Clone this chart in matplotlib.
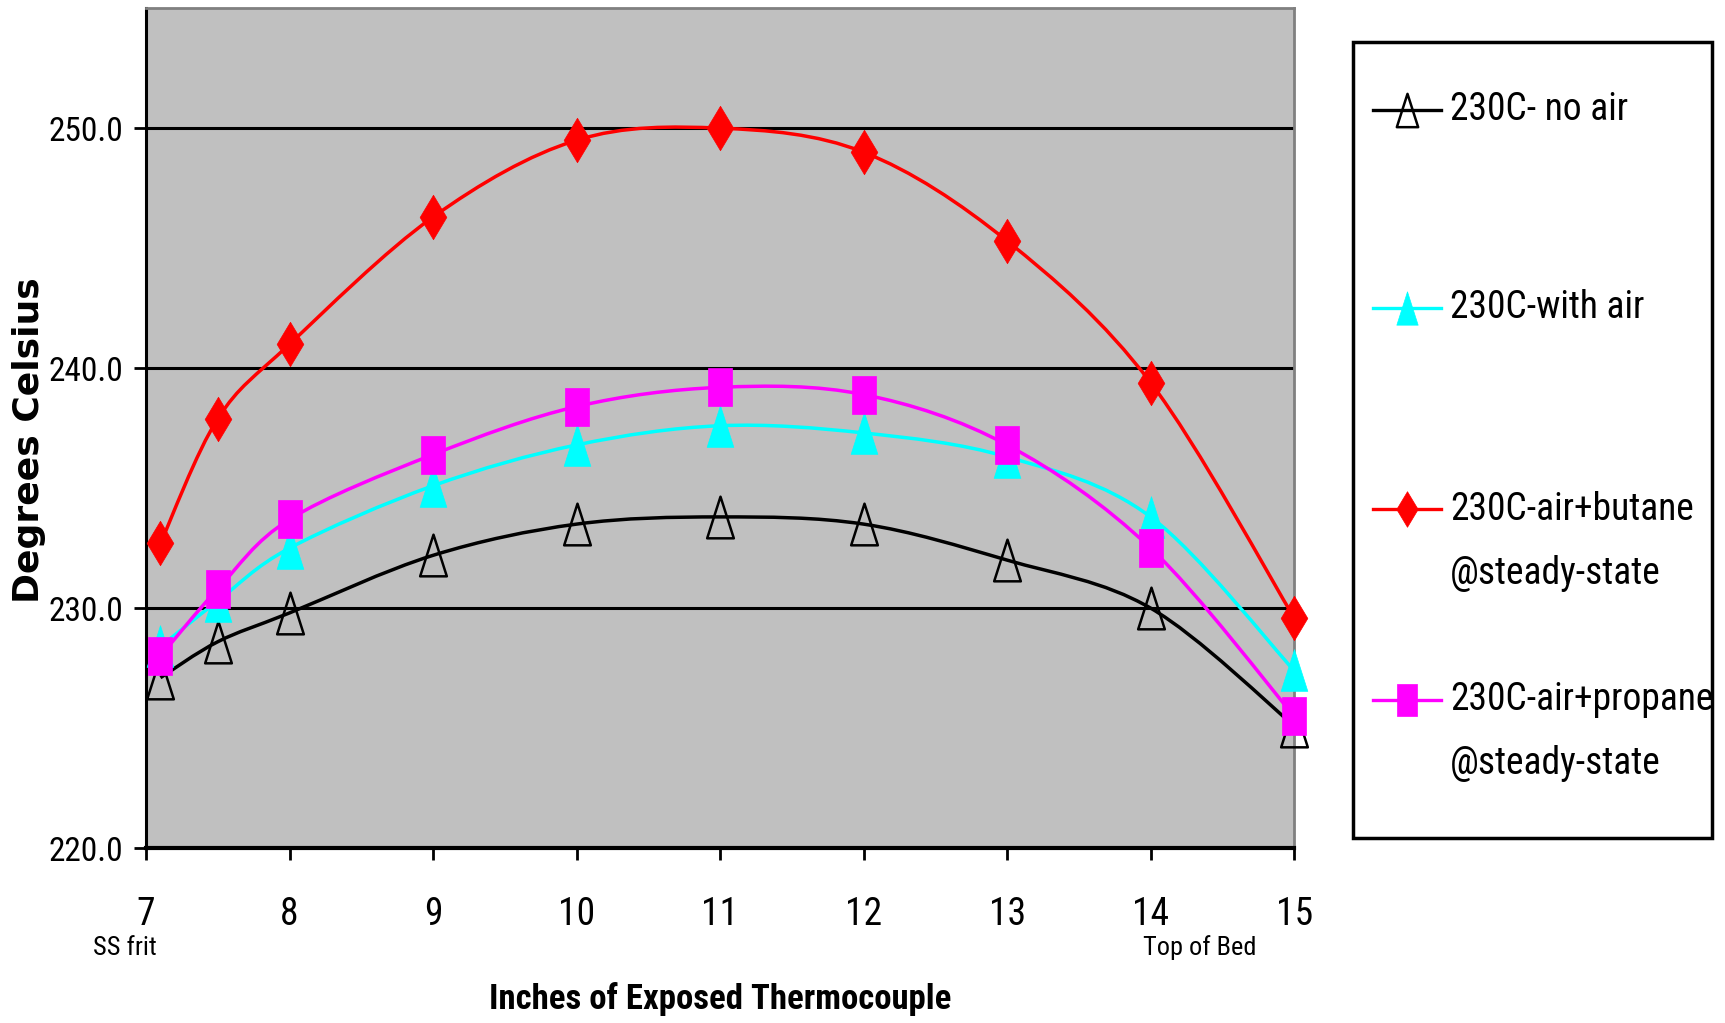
# temperature profile along the exposed thermocouple, 230C runs
import numpy as np
import matplotlib
matplotlib.use('Agg')
import matplotlib.pyplot as plt
from matplotlib import font_manager
from matplotlib.path import Path
from matplotlib.patches import PathPatch, Rectangle
from matplotlib.lines import Line2D

inches = [7.1, 7.5, 8, 9, 10, 11, 12, 13, 14, 15]
no_air = [227.1, 228.6, 229.8, 232.2, 233.5, 233.8, 233.5, 232.0, 230.0, 225.1]
with_air = [228.4, 230.3, 232.5, 235.1, 236.8, 237.6, 237.3, 236.3, 233.8, 227.4]
air_butane = [232.7, 237.9, 241.0, 246.3, 249.5, 250.0, 249.0, 245.3, 239.4, 229.6]
air_propane = [228.0, 230.8, 233.7, 236.4, 238.4, 239.2, 238.9, 236.8, 232.5, 225.5]

labels = ['230C- no air', '230C-with air',
          '230C-air+butane\n@steady-state', '230C-air+propane\n@steady-state']
x_ticks = [7, 8, 9, 10, 11, 12, 13, 14, 15]
y_ticks = [220, 230, 240, 250]
y_tick_labels = ['220.0', '230.0', '240.0', '250.0']

# the chart uses a narrow face; take one if it is there, else shrink a normal one
names = {f.name for f in font_manager.fontManager.ttflist}
family, stretch, scale = 'Liberation Sans', 'normal', 0.82
for cand in ['Liberation Sans Narrow', 'Arial Narrow', 'Roboto Condensed',
             'Open Sans Condensed', 'Noto Sans Condensed', 'DejaVu Sans Condensed']:
    if cand in names:
        family, scale = cand, 1.0
        break
else:
    for f in font_manager.fontManager.ttflist:
        if f.name in ('Noto Sans', 'Roboto', 'Open Sans', 'DejaVu Sans') and \
                f.stretch in ('condensed', 'semi-condensed', 'extra-condensed'):
            family, stretch, scale = f.name, 'condensed', 1.0
            break
plt.rcParams['font.family'] = [family, 'Liberation Sans', 'DejaVu Sans']
plt.rcParams['font.stretch'] = stretch

# excel-like markers, a bit taller than wide
tri = Path([(0, 1), (0.64, -1), (-0.64, -1), (0, 1)], closed=True)
diamond = Path([(0, 1), (0.6, 0), (0, -1), (-0.6, 0), (0, 1)], closed=True)
square = Path([(-0.64, -1), (0.64, -1), (0.64, 1), (-0.64, 1), (-0.64, -1)], closed=True)

styles = [
    dict(color='black', marker=tri, ms=30, mfc='none', mew=1.8),
    dict(color='#00FFFF', marker=tri, ms=30, mfc='#00FFFF', mew=0.5),
    dict(color='red', marker=diamond, ms=32, mfc='red', mew=0.5),
    dict(color='#FF00FF', marker=square, ms=28, mfc='#FF00FF', mew=0.5),
]


def smooth_path(x, y):
    # cubic bezier through the points, like excel's smoothed line
    pts = np.column_stack([x, y])
    verts = [pts[0]]
    codes = [Path.MOVETO]
    n = len(pts)
    for i in range(n - 1):
        p0 = pts[i - 1] if i > 0 else pts[i]
        p1 = pts[i]
        p2 = pts[i + 1]
        p3 = pts[i + 2] if i + 2 < n else pts[i + 1]
        verts += [p1 + (p2 - p0) / 6, p2 - (p3 - p1) / 6, p2]
        codes += [Path.CURVE4] * 3
    return Path(verts, codes)


fig = plt.figure(figsize=(17.25, 10.23), dpi=100)
ax = fig.add_axes([0.0847, 0.171, 0.6655, 0.821])
ax.set_facecolor('#C0C0C0')

series = [no_air, with_air, air_butane, air_propane]
for k, (vals, st) in enumerate(zip(series, styles)):
    ax.add_patch(PathPatch(smooth_path(inches, vals), fill=False,
                           edgecolor=st['color'], lw=2.5, zorder=3 + 2 * k))
    ax.plot(inches, vals, linestyle='none', marker=st['marker'], ms=st['ms'],
            mfc=st['mfc'], mec=st['color'], mew=st['mew'], clip_on=False,
            zorder=4 + 2 * k)

ax.set_xlim(7, 15)
ax.set_ylim(220, 255)
ax.set_xticks(x_ticks)
ax.set_xticklabels([str(t) for t in x_ticks], fontsize=27 * scale)
ax.set_yticks(y_ticks)
ax.set_yticklabels(y_tick_labels, fontsize=24 * scale)
ax.tick_params(axis='y', direction='out', length=8.6, width=2, pad=8)
ax.tick_params(axis='x', direction='out', length=8.6, width=2, pad=26)
ax.yaxis.grid(True, color='black', lw=2.2)
ax.set_axisbelow(True)

for side in ['top', 'right']:
    ax.spines[side].set_color('#808080')
    ax.spines[side].set_linewidth(2)
ax.spines['left'].set_linewidth(2.2)
ax.spines['bottom'].set_linewidth(3)

ax.text(0.5, -0.18, 'Inches of Exposed Thermocouple', transform=ax.transAxes,
        ha='center', va='center', fontsize=25 * scale, fontweight='bold')
ax.text(-0.102, 0.486, 'Degrees Celsius', transform=ax.transAxes, rotation=90,
        ha='center', va='center', fontsize=26, fontweight='bold',
        family='DejaVu Sans', stretch='normal')
ax.text(6.85, -0.119, 'SS frit', transform=ax.get_xaxis_transform(),
        ha='center', va='center', fontsize=19 * scale, clip_on=False)
ax.text(14.345, -0.119, 'Top of Bed', transform=ax.get_xaxis_transform(),
        ha='center', va='center', fontsize=19 * scale, clip_on=False)

# legend box drawn by hand so the marker sits on the first text line
W, H = 1725.0, 1023.0
fig.patches.append(Rectangle((1353 / W, 1 - 838 / H), (1712 - 1353) / W, (838 - 42) / H,
                             transform=fig.transFigure, facecolor='white',
                             edgecolor='black', lw=2.5))
entry_y = [110, 308, 509, 700]
line_gap = 64
for lab, st, yy in zip(labels, styles, entry_y):
    yf = 1 - yy / H
    fig.add_artist(Line2D([1373 / W, 1407 / W, 1441 / W], [yf, yf, yf],
                          transform=fig.transFigure, color=st['color'], lw=2.4,
                          marker=st['marker'], ms=st['ms'] * 0.8, mfc=st['mfc'],
                          mec=st['color'], mew=st['mew'], markevery=[1]))
    for j, part in enumerate(lab.split('\n')):
        fig.text(1450 / W, 1 - (yy + j * line_gap) / H, part, fontsize=27 * scale,
                 ha='left', va='center')

fig.savefig('out.png', dpi=100)
